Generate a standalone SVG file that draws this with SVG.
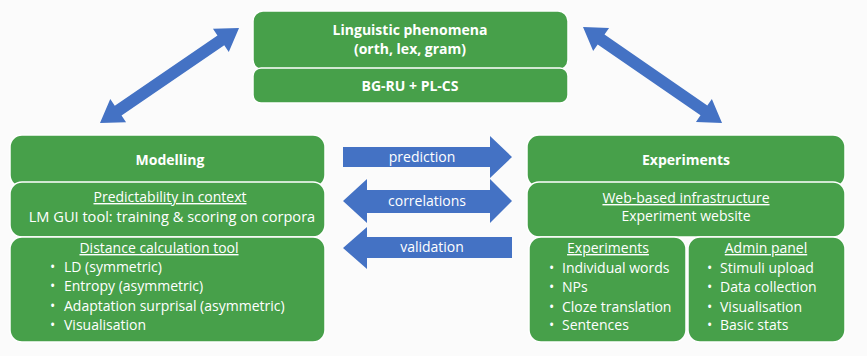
<svg xmlns="http://www.w3.org/2000/svg" width="867" height="356" viewBox="0 0 867 356">
<style>
.box{fill:#47a04a;stroke:#ffffff;stroke-width:1.5}
.arr{fill:#4472c4}
text{font-family:"Open Sans","Noto Sans",sans-serif;fill:#ffffff;font-size:14px}
.b{font-weight:bold}
.c{text-anchor:middle}
.u{text-decoration:underline}
</style>
<rect width="867" height="356" fill="#fbfbfb"/>
<g id="connectors">
<polygon class="arr" transform="translate(100,123) rotate(-34.35)" points="0,0 22,-14 22,-6 146.4,-6 146.4,-14 168.4,0 146.4,14 146.4,6 22,6 22,14"/>
<polygon class="arr" transform="translate(583,27) rotate(34.6)" points="0,0 22,-14 22,-6 146.9,-6 146.9,-14 168.9,0 146.9,14 146.9,6 22,6 22,14"/>
<g id="prediction">
<polygon class="arr" points="343,147 490,147 490,136 512,157 490,178 490,167 343,167"/>
<text class="c" x="422" y="162">prediction</text>
</g>
<g id="correlations">
<polygon class="arr" points="343,201 367,179 367,190 490,190 490,179 512,201 490,223 490,213 367,213 367,223"/>
<text class="c" x="427" y="206">correlations</text>
</g>
<g id="validation">
<polygon class="arr" points="343,248 367,227 367,237 512,237 512,258 367,258 367,269"/>
<text class="c" x="432" y="252">validation</text>
</g>
</g>
<g id="linguistic">
<rect class="box" x="253" y="11" width="315" height="59" rx="10"/>
<rect class="box" x="253" y="68" width="315" height="35" rx="8"/>
<text class="c b" x="410" y="35">Linguistic phenomena</text>
<text class="c b" x="410" y="54">(orth, lex, gram)</text>
<text class="c b" x="410" y="91">BG-RU + PL-CS</text>
</g>
<g id="modelling">
<rect class="box" x="10" y="135" width="315" height="52" rx="12"/>
<rect class="box" x="10" y="182" width="315" height="55" rx="12"/>
<rect class="box" x="10" y="237" width="315" height="105" rx="12"/>
<text class="c b" x="170" y="165">Modelling</text>
<text class="c u" x="170" y="202">Predictability in context</text>
<text class="c" x="172" y="222" style="font-size:14.6px">LM GUI tool: training &amp; scoring on corpora</text>
<text class="c u" x="159" y="253">Distance calculation tool</text>
<text x="50" y="272">•</text><text x="64" y="272">LD (symmetric)</text>
<text x="50" y="291">•</text><text x="64" y="291">Entropy (asymmetric)</text>
<text x="50" y="311">•</text><text x="64" y="311">Adaptation surprisal (asymmetric)</text>
<text x="50" y="330">•</text><text x="64" y="330">Visualisation</text>
</g>
<g id="experiments">
<rect class="box" x="527" y="135" width="318" height="52" rx="12"/>
<rect class="box" x="527" y="182" width="318" height="55" rx="12"/>
<text class="c b" x="686" y="165">Experiments</text>
<text class="c u" x="686" y="203">Web-based infrastructure</text>
<text class="c" x="686" y="221">Experiment website</text>
</g>
<g id="experiments-list">
<rect class="box" x="529" y="237" width="157" height="105" rx="12"/>
<text class="c u" x="608" y="253">Experiments</text>
<text x="549" y="273">•</text><text x="562" y="273">Individual words</text>
<text x="549" y="292">•</text><text x="562" y="292">NPs</text>
<text x="549" y="312">•</text><text x="562" y="312">Cloze translation</text>
<text x="549" y="330">•</text><text x="562" y="330">Sentences</text>
</g>
<g id="admin-panel">
<rect class="box" x="688" y="237" width="157" height="105" rx="12"/>
<text class="c u" x="766" y="253">Admin panel</text>
<text x="707" y="273">•</text><text x="720" y="273">Stimuli upload</text>
<text x="707" y="292">•</text><text x="720" y="292">Data collection</text>
<text x="707" y="312">•</text><text x="720" y="312">Visualisation</text>
<text x="707" y="330">•</text><text x="720" y="330">Basic stats</text>
</g>
</svg>
